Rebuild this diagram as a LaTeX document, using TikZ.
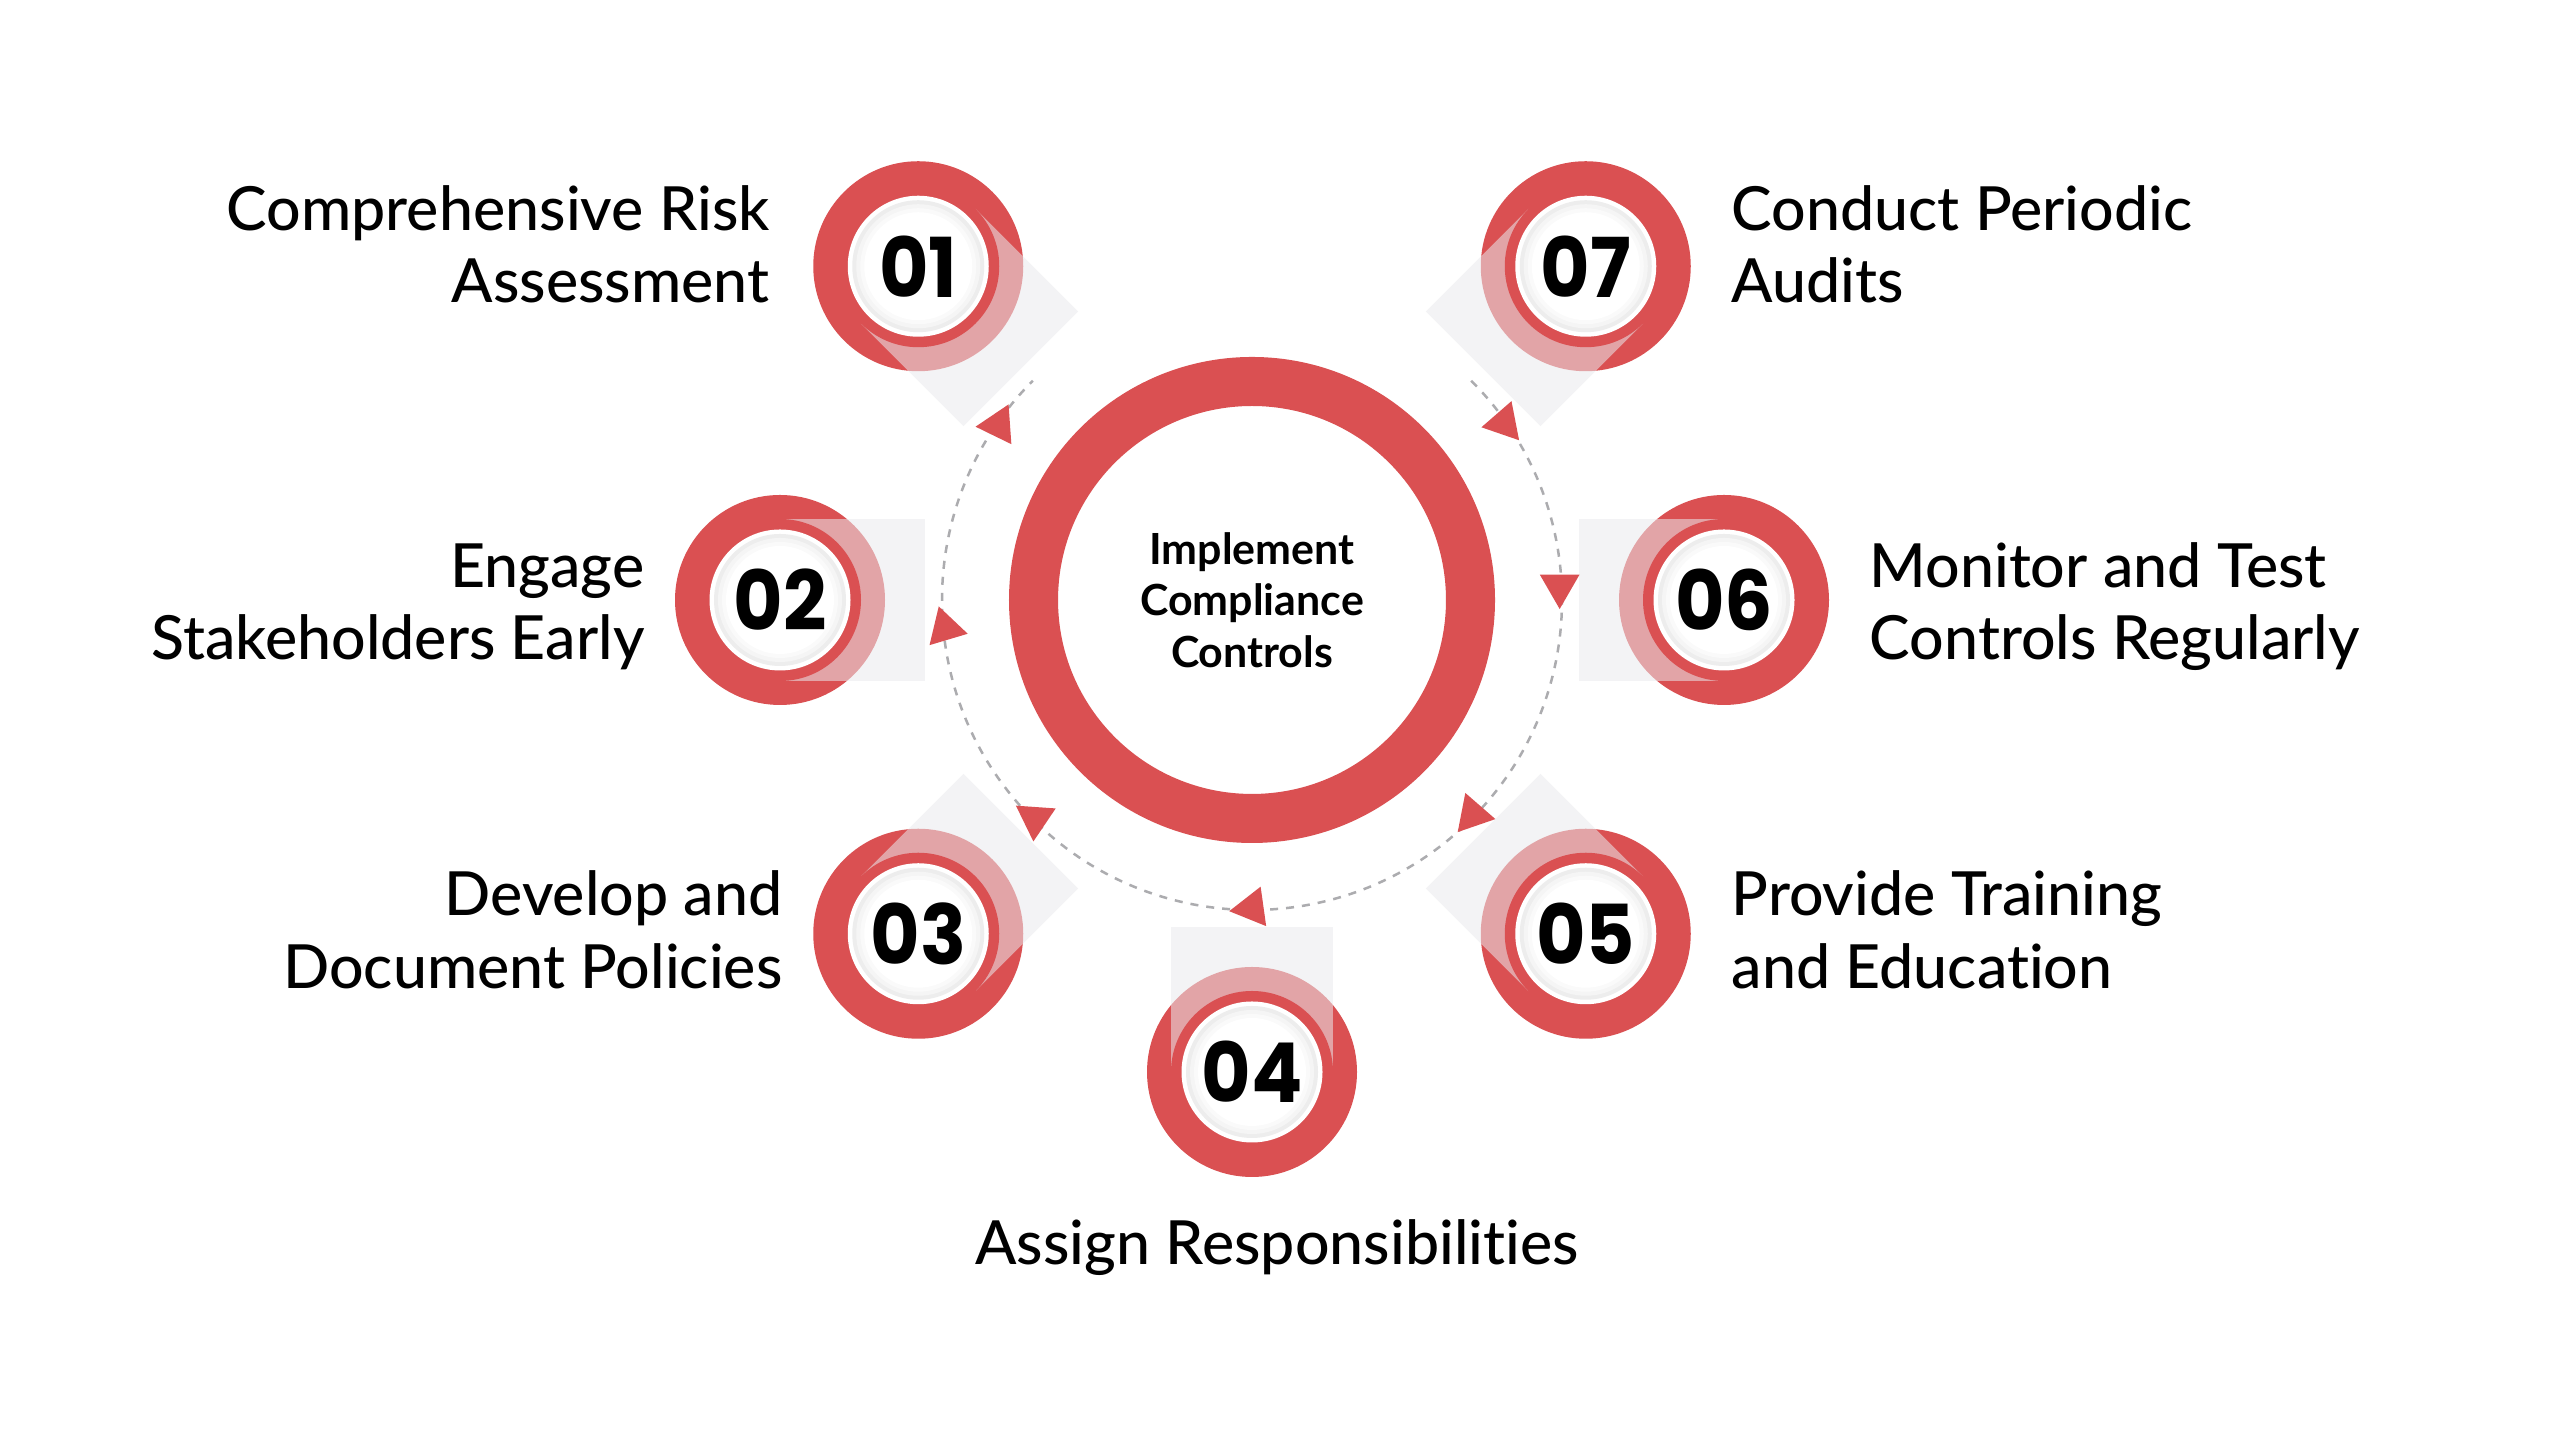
\documentclass[tikz,border=0pt]{standalone}
\usepackage{fontspec}
\setmainfont{Lato}[Ligatures=NoCommon]
\IfFontExistsTF{Lato Medium}{\newfontfamily\lblfont{Lato Medium}[Ligatures=NoCommon]}{\newfontfamily\lblfont{Lato}[FakeBold=1,Ligatures=NoCommon]}
\IfFontExistsTF{Poppins Bold}{\newfontfamily\numfont{Poppins Bold}[FakeStretch=0.92]}{\newfontfamily\numfont{Poppins SemiBold}[FakeStretch=0.92]}
\usetikzlibrary{calc}
\definecolor{cred}{RGB}{218,80,82}
\definecolor{cdash}{RGB}{172,172,175}
\definecolor{cshadow}{RGB}{234,234,237}
\begin{document}
\begin{tikzpicture}[x=0.01cm,y=0.01cm,
  lbl/.style={font=\lblfont\fontsize{17.3}{20}\selectfont, inner sep=0pt, text=black},
  numtxt/.style={font=\numfont\fontsize{23.5}{26}\selectfont, inner sep=0pt, text=black},
  centertxt/.style={font=\bfseries\fontsize{12.2}{14.7}\selectfont, align=center, inner sep=0pt, text=black},
  dashring/.style={cdash, line width=0.025cm, dash pattern=on 0.08cm off 0.08cm},
  tri/.style={fill=cred}]
\useasboundingbox (0,0) rectangle (2560,1440);
\fill[white] (0,0) rectangle (2560,1440);
\coordinate (C) at (1252,840);

% dashed cycle
\draw[dashring] ($(C)+(45:310)$) arc[start angle=45, end angle=-225, radius=310];

% step circles
\foreach \n/\a in {01/135,02/180,03/225,04/270,05/315,06/0,07/45}{
  \coordinate (c\n) at ($(C)+(\a:472)$);
  \fill[cred] (c\n) circle (105);
  \begin{scope}[shift={(c\n)}, rotate=\a+180]
    \fill[cshadow, opacity=0.55] (0,-81) rectangle (145,81);
  \end{scope}
  \fill[cred] (c\n) circle (81);
  \fill[white] (c\n) circle (70.5);
  \fill[black!7] (c\n) circle (66);
  \fill[black!4] (c\n) circle (62);
  \fill[black!2] (c\n) circle (58);
  \fill[white] (c\n) circle (54);
  \node[numtxt] (n\n) at (c\n) {\n};
}

% arrow heads on the dashed cycle
\foreach \i/\p/\t in {1/145.4/64,2/185.3/106.6,3/225.2/146,4/270/188,5/-44.2/-131,6/2.6/-90,7/35.1/-49}{
  \coordinate (a\i) at ($(C)+(\p:308)$);
  \fill[tri] ($(a\i)+(\t:23)$) -- ($(a\i)+(\t+120:23)$) -- ($(a\i)+(\t+240:23)$) -- cycle;
}

% central ring
\draw[cred, line width=0.49cm] (C) circle (218.5);
\node[centertxt] (ctr) at (C) {Implement\\Compliance\\Controls};

% labels
\node[lbl, anchor=base east] (l1a) at (770,1209) {Comprehensive Risk};
\node[lbl, anchor=base east] (l1b) at (770,1137) {Assessment};
\node[lbl, anchor=base east] (l2a) at (645,852) {Engage};
\node[lbl, anchor=base east] (l2b) at (645,780) {Stakeholders Early};
\node[lbl, anchor=base east] (l3a) at (783,524) {Develop and};
\node[lbl, anchor=base east] (l3b) at (783,451) {Document Policies};
\node[lbl, anchor=base] (l4) at (1277,175) {Assign Responsibilities};
\node[lbl, anchor=base west] (l5a) at (1731,524) {Provide Training};
\node[lbl, anchor=base west] (l5b) at (1731,451) {and Education};
\node[lbl, anchor=base west] (l6a) at (1869,852) {Monitor and Test};
\node[lbl, anchor=base west] (l6b) at (1869,780) {Controls Regularly};
\node[lbl, anchor=base west] (l7a) at (1731,1209) {Conduct Periodic};
\node[lbl, anchor=base west] (l7b) at (1731,1137) {Audits};
\end{tikzpicture}
\end{document}
